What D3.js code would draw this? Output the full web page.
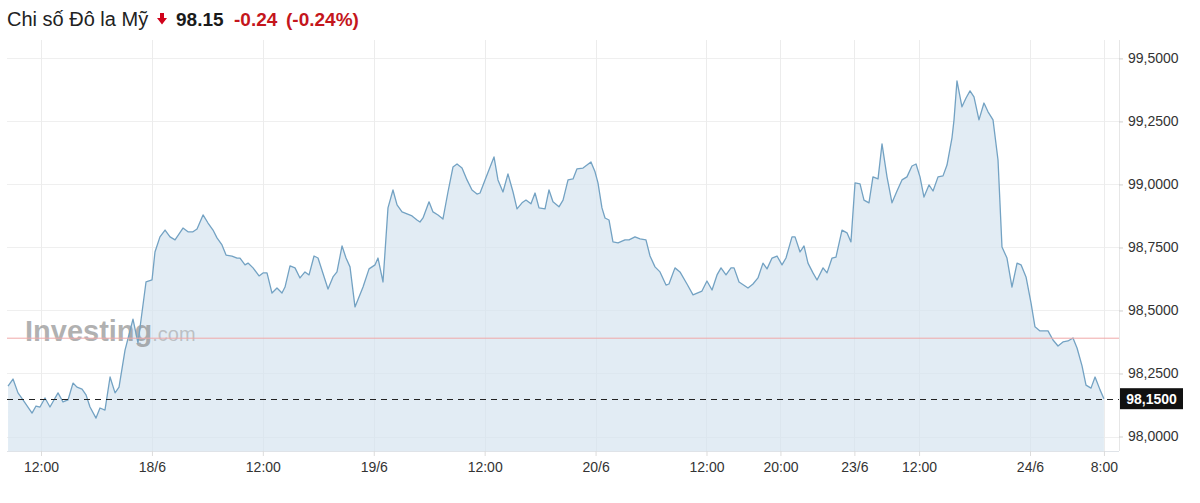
<!DOCTYPE html>
<html>
<head>
<meta charset="utf-8">
<script src="https://cdn.jsdelivr.net/npm/d3@7/dist/d3.min.js"></script>
<style>
  html, body { margin: 0; padding: 0; background: #fff; }
  svg { display: block; font-family: "Liberation Sans", Arial, sans-serif; }
</style>
</head>
<body>
<svg id="chart" width="1200" height="503"></svg>
<script>
// ---- data (hours counted in trading time from 17/6 00:00; weekend gap collapsed) ----
const hours = [8.43,8.97,9.51,10.05,11.03,11.46,11.89,12.43,12.97,13.84,14.38,14.92,15.46,15.89,16.44,16.87,17.30,17.95,18.38,18.92,19.47,20.01,20.44,21.09,21.95,22.49,23.36,24.01,24.33,24.87,25.42,25.96,26.50,27.36,27.90,28.44,28.88,29.53,30.07,30.61,31.04,31.58,32.02,32.66,33.21,33.53,34.07,34.40,34.94,35.59,36.02,36.45,36.99,37.53,38.07,38.40,38.94,39.48,40.02,40.56,41.00,41.54,41.97,43.05,43.59,44.02,44.57,45.00,45.43,45.97,46.84,47.49,48.14,48.46,49.00,49.54,50.08,50.52,51.06,51.60,52.14,52.68,53.00,53.33,53.98,54.41,54.95,55.49,56.03,56.57,57.01,57.55,58.09,58.63,59.17,59.50,60.04,60.47,61.01,61.44,61.98,62.52,63.07,63.50,64.04,64.47,65.01,65.45,65.88,66.53,66.96,67.39,68.04,68.48,69.02,69.56,69.99,70.64,71.50,71.94,72.26,72.69,73.02,73.45,73.88,74.43,75.18,75.62,76.26,76.81,77.45,77.89,78.43,78.97,79.62,79.94,80.59,81.13,81.89,82.54,83.51,84.05,84.60,85.14,85.57,86.11,86.65,86.98,87.52,88.17,88.49,89.03,89.57,90.11,90.55,91.09,91.63,92.17,92.60,93.25,93.58,94.12,94.55,94.98,95.52,95.96,96.61,97.04,97.58,98.01,98.66,99.20,99.63,100.07,100.61,101.04,101.58,102.01,102.56,102.99,103.53,104.07,104.61,105.15,105.69,106.23,106.67,107.10,107.53,108.07,108.51,109.05,109.59,110.02,110.56,110.78,111.10,111.64,112.08,112.51,112.94,113.48,114.02,114.46,115.00,115.54,115.97,116.51,117.05,117.60,118.03,118.57,119.11,119.54,120.08,120.95,121.49,122.03,122.57,123.11,123.65,124.09,124.63,125.06,125.60,126.04,126.58,127.00];
const values = [98.200,98.228,98.173,98.145,98.093,98.121,98.117,98.153,98.117,98.173,98.137,98.145,98.212,98.196,98.188,98.165,98.117,98.073,98.113,98.105,98.236,98.173,98.196,98.343,98.466,98.371,98.613,98.621,98.732,98.792,98.819,98.792,98.780,98.827,98.812,98.812,98.823,98.879,98.847,98.819,98.788,98.760,98.720,98.716,98.708,98.708,98.681,98.688,98.669,98.637,98.649,98.649,98.569,98.589,98.569,98.593,98.677,98.669,98.629,98.653,98.641,98.716,98.708,98.585,98.633,98.653,98.756,98.708,98.673,98.514,98.593,98.665,98.681,98.708,98.613,98.907,98.978,98.919,98.891,98.883,98.875,98.859,98.851,98.867,98.931,98.891,98.879,98.863,98.970,99.069,99.081,99.065,99.018,98.978,98.962,98.966,99.018,99.058,99.109,99.018,98.970,99.042,98.970,98.903,98.927,98.938,98.923,98.966,98.907,98.903,98.978,98.931,98.911,98.938,99.018,99.022,99.062,99.065,99.089,99.050,99.006,98.907,98.867,98.859,98.772,98.768,98.780,98.780,98.792,98.784,98.780,98.716,98.673,98.653,98.601,98.605,98.669,98.653,98.605,98.562,98.577,98.617,98.581,98.641,98.669,98.641,98.669,98.669,98.613,98.597,98.589,98.605,98.629,98.688,98.665,98.708,98.716,98.681,98.708,98.792,98.792,98.732,98.756,98.688,98.649,98.621,98.669,98.649,98.708,98.712,98.819,98.808,98.772,99.006,99.002,98.938,98.927,99.030,99.022,99.161,99.030,98.927,98.974,99.018,99.030,99.073,99.081,99.030,98.950,98.998,98.974,99.030,99.034,99.077,99.185,99.256,99.411,99.308,99.343,99.371,99.347,99.256,99.323,99.288,99.256,99.097,98.752,98.708,98.593,98.688,98.681,98.633,98.530,98.435,98.419,98.419,98.383,98.359,98.375,98.379,98.391,98.351,98.280,98.204,98.192,98.236,98.185,98.150];

const xTickHours  = [12, 24, 36, 48, 60, 72, 84, 92, 100, 107, 119, 127];
const xTickLabels = ["12:00","18/6","12:00","19/6","12:00","20/6","12:00","20:00","23/6","12:00","24/6","8:00"];
const yTickValues = [98.0, 98.25, 98.5, 98.75, 99.0, 99.25, 99.5];

const lastValue = 98.15;
const prevClose = 98.39;
const change = -0.24;
const changePct = -0.24;
const titleText = "Chi số Đô la Mỹ";

// ---- layout ----
const L = 7, R = 1119, T = 40, B = 451;
const svg = d3.select("#chart");

const x = d3.scaleLinear().domain([8.32, 128.63]).range([L, R]);
const y = d3.scaleLinear().domain([97.9425, 99.573]).range([B, T]);
const fmt = v => d3.format(".4f")(v).replace(".", ",");
const fmt2 = v => d3.format(".2f")(v).replace("\u2212", "-");

const data = hours.map((h, i) => ({ h, v: values[i] }));

// grid
const grid = svg.append("g");
grid.selectAll(".hg").data(yTickValues).join("line")
  .attr("x1", L).attr("x2", R)
  .attr("y1", d => Math.round(y(d)) + 0.5).attr("y2", d => Math.round(y(d)) + 0.5)
  .attr("stroke", "#efefef").attr("stroke-width", 1);
grid.selectAll(".vg").data(xTickHours).join("line")
  .attr("x1", d => Math.round(x(d)) + 0.5).attr("x2", d => Math.round(x(d)) + 0.5)
  .attr("y1", T).attr("y2", B)
  .attr("stroke", "#ececec").attr("stroke-width", 1);

// area + line
const area = d3.area().x(d => x(d.h)).y0(B).y1(d => y(d.v));
const line = d3.line().x(d => x(d.h)).y(d => y(d.v));
svg.append("path").datum(data).attr("d", area)
  .attr("fill", "#d6e4f0").attr("fill-opacity", 0.7);

// watermark
const wm = svg.append("text").attr("x", 25).attr("y", 341);
wm.append("tspan").attr("font-size", 29).attr("font-weight", "bold")
  .attr("fill", "#7d7d7d").attr("fill-opacity", 0.6).text("Investing");
wm.append("tspan").attr("font-size", 20)
  .attr("fill", "#9a9a9a").attr("fill-opacity", 0.55).text(".com");

svg.append("path").datum(data).attr("d", line)
  .attr("fill", "none").attr("stroke", "#73a2c3").attr("stroke-width", 1.3)
  .attr("stroke-linejoin", "round");

// previous close line
svg.append("line").attr("x1", L).attr("x2", R)
  .attr("y1", y(prevClose)).attr("y2", y(prevClose))
  .attr("stroke", "#f0a8a8").attr("stroke-width", 1);

// last value dashed line
svg.append("line").attr("x1", L).attr("x2", R + 4)
  .attr("y1", Math.round(y(lastValue)) + 0.5).attr("y2", Math.round(y(lastValue)) + 0.5)
  .attr("stroke", "#222").attr("stroke-width", 1.2).attr("stroke-dasharray", "6,5");

// plot border (bottom + right)
svg.append("line").attr("x1", L).attr("x2", R).attr("y1", B + 0.5).attr("y2", B + 0.5)
  .attr("stroke", "#dfe3e8");
svg.append("line").attr("x1", R + 0.5).attr("x2", R + 0.5).attr("y1", T).attr("y2", B)
  .attr("stroke", "#e6e6e6");

// bottom axis
const xAxis = d3.axisBottom(x).tickValues(xTickHours)
  .tickFormat((d, i) => xTickLabels[i]).tickSize(5).tickPadding(6);
const gx = svg.append("g").attr("transform", `translate(0,${B})`).call(xAxis);
gx.select(".domain").remove();
gx.selectAll(".tick line").attr("stroke", "#dcdcdc");
gx.selectAll(".tick text").attr("fill", "#333").attr("font-size", 14)
  .attr("font-family", "'Liberation Sans', Arial, sans-serif");

// right axis
const yAxis = d3.axisRight(y).tickValues(yTickValues).tickFormat(fmt).tickSize(4).tickPadding(5);
const gy = svg.append("g").attr("transform", `translate(${R},0)`).call(yAxis);
gy.select(".domain").remove();
gy.selectAll(".tick line").attr("stroke", "#cfcfcf");
gy.selectAll(".tick text").attr("fill", "#333").attr("font-size", 14)
  .attr("font-family", "'Liberation Sans', Arial, sans-serif");

// last value label
const ly = y(lastValue);
svg.append("rect").attr("x", R + 1).attr("y", ly - 10.5).attr("width", 63).attr("height", 21)
  .attr("fill", "#111");
svg.append("text").attr("x", R + 32.5).attr("y", ly + 5).attr("text-anchor", "middle")
  .attr("fill", "#fff").attr("font-size", 14).attr("font-weight", "bold").text(fmt(lastValue));

// title
svg.append("text").attr("x", 7).attr("y", 26).attr("font-size", 20).attr("fill", "#222")
  .text(titleText);
// down arrow
const ax = 162;
svg.append("path")
  .attr("d", `M${ax-2},13 L${ax+2},13 L${ax+2},18 L${ax+5},18 L${ax},24.5 L${ax-5},18 L${ax-2},18 Z`)
  .attr("fill", "#d0021b");
svg.append("text").attr("x", 176).attr("y", 26).attr("font-size", 19).attr("font-weight", "bold")
  .attr("fill", "#1a1a1a").text(fmt2(lastValue));
svg.append("text").attr("x", 234).attr("y", 26).attr("font-size", 19).attr("font-weight", "bold")
  .attr("fill", "#c4161c").text(fmt2(change));
svg.append("text").attr("x", 286).attr("y", 26).attr("font-size", 19).attr("font-weight", "bold")
  .attr("fill", "#c4161c").text("(" + fmt2(changePct) + "%)");
</script>
</body>
</html>
